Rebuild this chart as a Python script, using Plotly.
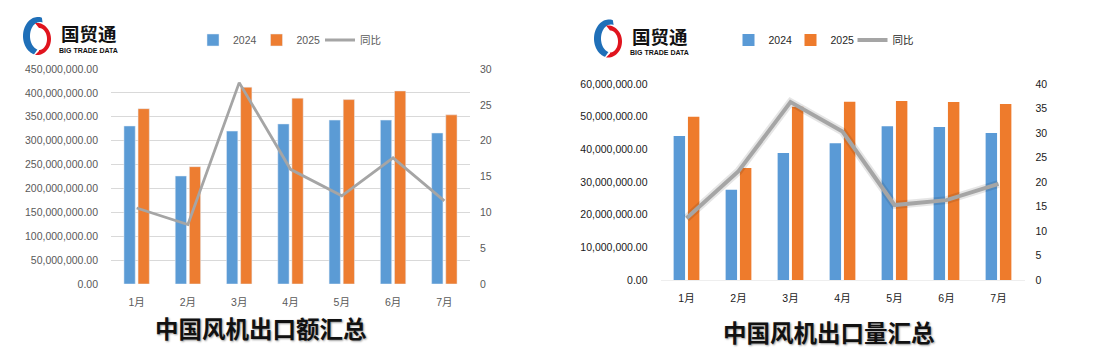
import numpy as np
import plotly.graph_objects as go

W, H = 1103, 355

months = ["1月", "2月", "3月", "4月", "5月", "6月", "7月"]

# 中国风机出口额汇总
value_2024 = [330.7e6, 226e6, 320e6, 335e6, 343e6, 343e6, 316e6]
value_2025 = [367e6, 245.6e6, 412e6, 389e6, 386e6, 404e6, 354e6]
value_yoy = [10.6, 8.3, 28.1, 16.0, 12.3, 17.6, 11.6]

# 中国风机出口量汇总
qty_2024 = [44.1e6, 27.6e6, 38.9e6, 41.9e6, 47.1e6, 46.8e6, 45.0e6]
qty_2025 = [50.0e6, 34.3e6, 53.0e6, 54.6e6, 54.8e6, 54.5e6, 53.9e6]
qty_yoy = [12.6, 22.2, 36.3, 30.3, 15.3, 16.3, 19.6]

left_ticks = list(range(0, 450_000_001, 50_000_000))
left_ticks2 = list(range(0, 31, 5))
right_ticks = list(range(0, 60_000_001, 10_000_000))
right_ticks2 = list(range(0, 41, 5))

BLUE = "#5b9bd5"
ORANGE = "#ed7d31"
GRAY = "#a5a5a5"
NUMFONT = "Liberation Sans, Noto Sans CJK SC, sans-serif"
CJK = "Noto Sans CJK SC, sans-serif"


def px(x):
    return x / W


def py(y):
    return 1 - y / H


fig = go.Figure()

# ---- left chart ----
fig.add_trace(go.Bar(x=months, y=value_2024, name="2024", marker_color=BLUE,
                     xaxis="x", yaxis="y", legend="legend"))
fig.add_trace(go.Bar(x=months, y=value_2025, name="2025", marker_color=ORANGE,
                     xaxis="x", yaxis="y", legend="legend"))
fig.add_trace(go.Scatter(x=months, y=value_yoy, name="同比", mode="lines",
                         line=dict(color=GRAY, width=2.8),
                         xaxis="x", yaxis="y2", legend="legend"))

# ---- right chart ----
fig.add_trace(go.Bar(x=months, y=qty_2024, name="2024", marker_color="#5a9ad6",
                     xaxis="x2", yaxis="y3", legend="legend2",
                     marker_line=dict(width=0)))
fig.add_trace(go.Bar(x=months, y=qty_2025, name="2025", marker_color="#ee7b2c",
                     xaxis="x2", yaxis="y3", legend="legend2",
                     marker_line=dict(width=0)))
fig.add_trace(go.Scatter(x=months, y=qty_yoy, mode="lines", showlegend=False,
                         line=dict(color="rgba(0,0,0,0.10)", width=8),
                         hoverinfo="skip", xaxis="x2", yaxis="y4"))
fig.add_trace(go.Scatter(x=months, y=qty_yoy, name="同比", mode="lines",
                         line=dict(color=GRAY, width=4),
                         xaxis="x2", yaxis="y4", legend="legend2"))

tickfont_l = dict(family=NUMFONT, size=10.5, color="#595959")
tickfont_r = dict(family=NUMFONT, size=10.5, color="#1a1a1a")

fig.update_layout(
    width=W, height=H,
    margin=dict(l=0, r=0, t=0, b=0, autoexpand=False),
    paper_bgcolor="white", plot_bgcolor="rgba(0,0,0,0)",
    barmode="group", bargap=0.45, bargroupgap=0.2,
    showlegend=True,
    xaxis=dict(domain=[px(111), px(470)], tickfont=tickfont_l, showgrid=False,
               showline=False, ticks="", ticklabelstandoff=10, automargin=False),
    yaxis=dict(domain=[py(284), py(69)], range=[0, 450_000_000], tickvals=left_ticks,
               tickformat=",.2f", tickfont=tickfont_l, showgrid=True,
               gridcolor="#d9d9d9", gridwidth=1, zeroline=False, ticks="",
               ticklabelstandoff=12, anchor="x", automargin=False),
    yaxis2=dict(overlaying="y", side="right", anchor="x", range=[0, 30],
                tickvals=left_ticks2, tickfont=tickfont_l, showgrid=False,
                zeroline=False, ticks="", ticklabelstandoff=9, automargin=False),
    xaxis2=dict(domain=[px(660.5), px(1024.5)], anchor="y3", tickfont=tickfont_r,
                showgrid=False, showline=True, linecolor="#eeeeee", linewidth=1,
                ticks="", ticklabelstandoff=8, automargin=False),
    yaxis3=dict(domain=[py(280), py(84)], anchor="x2", range=[0, 60_000_000],
                tickvals=right_ticks, tickformat=",.2f", tickfont=tickfont_r,
                showgrid=False, zeroline=False, ticks="", ticklabelstandoff=12,
                automargin=False),
    yaxis4=dict(overlaying="y3", side="right", anchor="x2", range=[0, 40],
                tickvals=right_ticks2, tickfont=tickfont_r, showgrid=False,
                zeroline=False, ticks="", ticklabelstandoff=10, automargin=False),
    legend=dict(orientation="h", x=px(193), xanchor="left", y=py(40),
                yanchor="middle", entrywidth=18.5,
                font=dict(family=NUMFONT, size=10.5, color="#595959"),
                bgcolor="rgba(0,0,0,0)", itemclick=False, itemdoubleclick=False),
    legend2=dict(orientation="h", x=px(728.5), xanchor="left", y=py(40),
                 yanchor="middle", entrywidth=17,
                 font=dict(family=NUMFONT, size=10.5, color="#262626"),
                 bgcolor="rgba(0,0,0,0)", itemclick=False, itemdoubleclick=False),
)

# ---- titles ----
for text, cx, cy in [("中国风机出口额汇总", 261, 328), ("中国风机出口量汇总", 828.5, 331.5)]:
    fig.add_annotation(text=f"<b>{text}</b>", x=px(cx), y=py(cy), xref="paper", yref="paper",
                       showarrow=False, xanchor="center", yanchor="middle",
                       font=dict(family=CJK, size=23.5, color="#111111",
                                 shadow="1px 1px 2px #9a9a9a"))


# ---- logos (decoration) ----
def path_from(points):
    s = "M" + " L".join(f"{px(x):.5f},{py(y):.5f}" for x, y in points)
    return s + " Z"


def add_logo(dx, dy):
    cx, cy = 38 + dx, 36 + dy
    # blue crescent
    a = np.radians(np.linspace(75, 255, 40))
    outer = [(cx + 15 * np.cos(t), cy - 19 * np.sin(t)) for t in a]
    inner = [(cx + 2 + 10 * np.cos(t), cy - 14 * np.sin(t)) for t in a[::-1]]
    fig.add_shape(type="path", path=path_from(outer + inner), xref="paper", yref="paper",
                  fillcolor="#1f6fb8", line=dict(width=0))
    # red D
    b = np.radians(np.linspace(90, -90, 30))
    outerD = [(cx - 3, cy - 13)] + [(cx - 1 + 14 * np.cos(t), cy + 3 - 16 * np.sin(t)) for t in b] + [(cx - 3, cy + 19)]
    innerD = [(cx + 1, cy + 15)] + [(cx + 1 + 8 * np.cos(t), cy + 3 - 11 * np.sin(t)) for t in b[::-1]] + [(cx + 1, cy - 8)]
    fig.add_shape(type="path", path=path_from(outerD + innerD), xref="paper", yref="paper",
                  fillcolor="#e0141e", line=dict(width=0))
    fig.add_annotation(text="<b>国贸通</b>", x=px(89 + dx), y=py(47 + dy), xref="paper",
                       yref="paper", showarrow=False, xanchor="center", yanchor="bottom",
                       borderpad=0, font=dict(family=CJK, size=18.5, color="#111111"))
    fig.add_annotation(text="<b>BIG TRADE DATA</b>", x=px(88.5 + dx), y=py(45.5 + dy),
                       xref="paper", yref="paper", showarrow=False, xanchor="center",
                       yanchor="top", borderpad=0,
                       font=dict(family="Liberation Sans, sans-serif", size=7, color="#111111"))


add_logo(0, 0)
add_logo(571, 2.5)

fig.write_html("out.html", config={"displayModeBar": False},
               post_script="document.body.style.margin='0';")
